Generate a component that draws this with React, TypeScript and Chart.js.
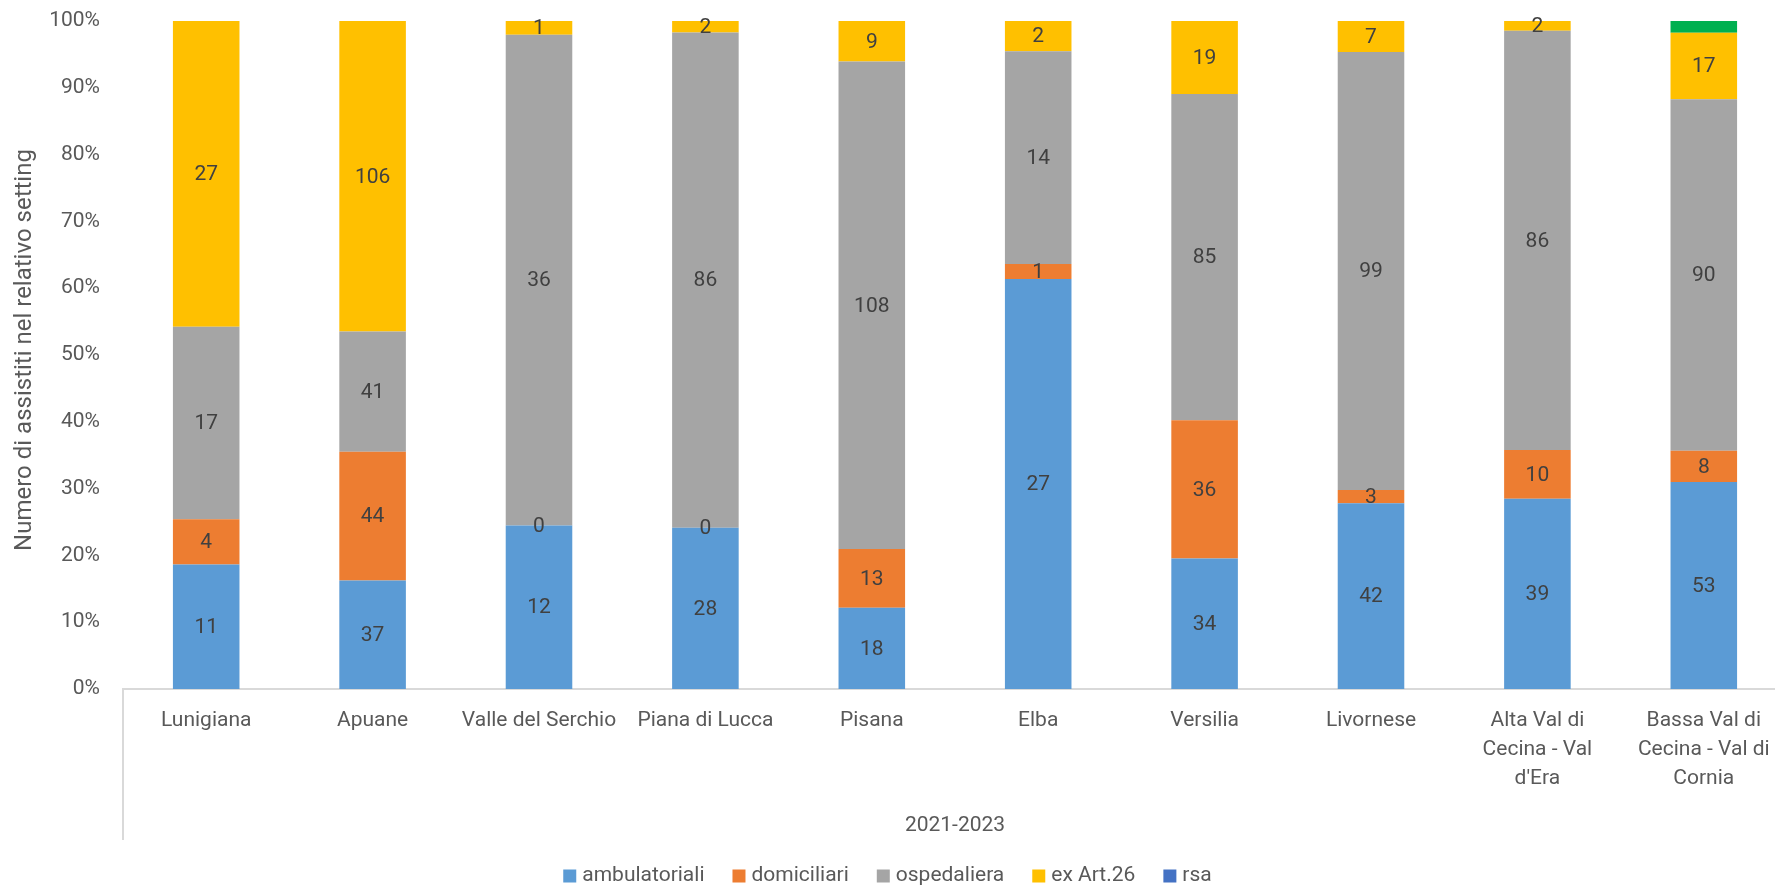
import React, { useEffect, useRef } from "react";
import { Chart, registerables } from "chart.js";

Chart.register(...registerables);

// ---- data ----
const categories: string[][] = [
  ["Lunigiana"],
  ["Apuane"],
  ["Valle del Serchio"],
  ["Piana di Lucca"],
  ["Pisana"],
  ["Elba"],
  ["Versilia"],
  ["Livornese"],
  ["Alta Val di", "Cecina - Val", "d'Era"],
  ["Bassa Val di", "Cecina - Val di", "Cornia"],
];
const ambulatoriali = [11, 37, 12, 28, 18, 27, 34, 42, 39, 53];
const domiciliari = [4, 44, 0, 0, 13, 1, 36, 3, 10, 8];
const ospedaliera = [17, 41, 36, 86, 108, 14, 85, 99, 86, 90];
const exArt26 = [27, 106, 1, 2, 9, 2, 19, 7, 2, 17];
const rsa = [0, 0, 0, 0, 0, 0, 0, 0, 0, 0];
const altro = [0, 0, 0, 0, 0, 0, 0, 0, 0, 3];
const groupLabel = "2021-2023";
const yTitle = "Numero di assistiti nel relativo setting";
const yMax = 100;
const yStep = 10;

const seriesNames = ["ambulatoriali", "domiciliari", "ospedaliera", "ex Art.26", "rsa", "altro"];
const seriesValues = [ambulatoriali, domiciliari, ospedaliera, exArt26, rsa, altro];
const seriesColors = ["#5B9BD5", "#ED7D31", "#A5A5A5", "#FFC000", "#4472C4", "#00B050"];
const labelledSeries = [true, true, true, true, false, false];
const legendSeries = [true, true, true, true, true, false];

const FONT = "Roboto, 'Open Sans', sans-serif";
const FS = 21;
const TEXT = "#595959";
const LABEL = "#404040";

const totals = categories.map((_, i) => seriesValues.reduce((s, arr) => s + arr[i], 0));

export default function App() {
  const ref = useRef<HTMLCanvasElement | null>(null);

  useEffect(() => {
    const canvas = ref.current;
    if (!canvas) return;

    const extras = {
      id: "extras",
      afterDatasetsDraw(chart: any) {
        const ctx = chart.ctx;
        ctx.save();
        ctx.font = `${FS}px ${FONT}`;
        ctx.fillStyle = LABEL;
        ctx.textAlign = "center";
        ctx.textBaseline = "middle";
        chart.data.datasets.forEach((ds: any, di: number) => {
          if (!labelledSeries[di]) return;
          const meta = chart.getDatasetMeta(di);
          meta.data.forEach((el: any, i: number) => {
            const v = seriesValues[di][i];
            ctx.fillText(String(v), el.x, (el.y + el.base) / 2 + 1);
          });
        });
        ctx.restore();
      },
      afterDraw(chart: any) {
        const ctx = chart.ctx;
        const a = chart.chartArea;
        ctx.save();
        // category box lines
        ctx.strokeStyle = "#D9D9D9";
        ctx.lineWidth = 2;
        ctx.beginPath();
        ctx.moveTo(a.left, a.bottom);
        ctx.lineTo(a.left, 840);
        ctx.moveTo(a.right, a.bottom);
        ctx.lineTo(a.right, 840);
        ctx.stroke();
        // group label
        ctx.font = `${FS}px ${FONT}`;
        ctx.fillStyle = TEXT;
        ctx.textAlign = "center";
        ctx.textBaseline = "middle";
        ctx.fillText(groupLabel, (a.left + a.right) / 2, 826);
        // y title
        ctx.save();
        ctx.font = `24px ${FONT}`;
        ctx.translate(25, 350);
        ctx.rotate(-Math.PI / 2);
        ctx.fillText(yTitle, 0, 0);
        ctx.restore();
        // legend
        const box = 13;
        const gapBT = 6;
        const gapItems = 28;
        const items = seriesNames
          .map((n, i) => ({ n, c: seriesColors[i], show: legendSeries[i] }))
          .filter((d) => d.show);
        const widths = items.map((d) => box + gapBT + ctx.measureText(d.n).width);
        const total = widths.reduce((s, w) => s + w, 0) + gapItems * (items.length - 1);
        let x = 1775 / 2 - total / 2;
        const ly = 876;
        ctx.textAlign = "left";
        items.forEach((d, i) => {
          ctx.fillStyle = d.c;
          ctx.fillRect(x, ly - box / 2, box, box);
          ctx.fillStyle = TEXT;
          ctx.fillText(d.n, x + box + gapBT, ly);
          x += widths[i] + gapItems;
        });
        ctx.restore();
      },
    };

    const chart = new Chart(canvas, {
      type: "bar",
      data: {
        labels: categories,
        datasets: seriesNames.map((n, di) => ({
          label: n,
          data: seriesValues[di].map((v, i) => (v / totals[i]) * 100),
          backgroundColor: seriesColors[di],
          borderWidth: 0,
          categoryPercentage: 1,
          barPercentage: 0.4,
        })),
      },
      options: {
        responsive: false,
        animation: false,
        devicePixelRatio: 1,
        layout: { padding: { top: 21, right: 3, left: 0, bottom: 0 } },
        plugins: {
          legend: { display: false },
          tooltip: { enabled: false },
        },
        scales: {
          x: {
            stacked: true,
            grid: { display: false, drawTicks: false },
            border: { display: true, color: "#D9D9D9", width: 2 },
            ticks: {
              padding: 17,
              color: TEXT,
              font: { family: FONT, size: FS, lineHeight: 29 / FS },
              maxRotation: 0,
              autoSkip: false,
            },
            afterFit(scale: any) {
              scale.height = 199;
              scale.paddingLeft = 0;
              scale.paddingRight = 0;
            },
          },
          y: {
            stacked: true,
            min: 0,
            max: yMax,
            grid: { display: false, drawTicks: false },
            border: { display: false },
            ticks: {
              stepSize: yStep,
              padding: 23,
              color: TEXT,
              font: { family: FONT, size: FS },
              callback: (v: any) => `${v}%`,
            },
            afterFit(scale: any) {
              scale.width = 123;
              scale.paddingTop = 0;
              scale.paddingBottom = 0;
            },
          },
        },
      },
      plugins: [extras],
    });
    return () => chart.destroy();
  }, []);

  return (
    <div
      style={{
        position: "fixed",
        left: 0,
        top: 0,
        width: 1775,
        height: 888,
        overflow: "hidden",
        background: "#fff",
      }}
    >
      <canvas ref={ref} width={1790} height={888} style={{ display: "block" }} />
    </div>
  );
}
